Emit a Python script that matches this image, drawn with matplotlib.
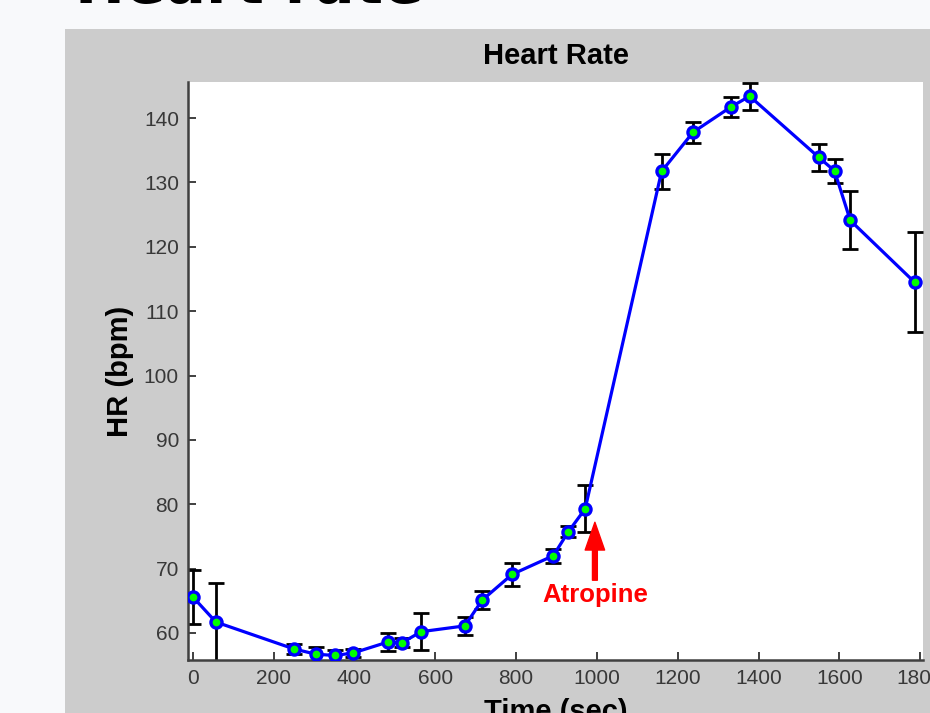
#!/usr/bin/env python3
# Heart rate vs time after atropine, MATLAB-style errorbar plot on a slide

import numpy as np
import matplotlib
matplotlib.use('Agg')
import matplotlib.pyplot as plt
from matplotlib.patches import Rectangle

# data =================================================================
time_sec=[0, 57, 251, 305, 352, 397, 483, 518, 565, 673, 716, 790, 892,
          929, 971, 1160, 1238, 1331, 1378, 1549, 1588, 1627, 1786]
hr_bpm=[65.6, 61.7, 57.5, 56.7, 56.5, 56.9, 58.6, 58.5, 60.2, 61.1, 65.1,
        69.1, 72.0, 75.7, 79.3, 131.7, 137.8, 141.7, 143.4, 133.9, 131.8,
        124.1, 114.5]
hr_sem=[4.2, 6.0, 0.75, 1.1, 0.9, 0.65, 1.4, 0.65, 2.85, 1.4, 1.35, 1.75,
        1.1, 0.85, 3.65, 2.75, 1.65, 1.55, 2.1, 2.1, 1.9, 4.5, 7.75]

x_ticks=[0, 200, 400, 600, 800, 1000, 1200, 1400, 1600, 1800]
y_ticks=[60, 70, 80, 90, 100, 110, 120, 130, 140]

slide_title='Heart rate'
ax_title='Heart Rate'
x_label='Time (sec)'
y_label='HR (bpm)'
note_text='Atropine'
note_time=995
note_tip=77.2
note_y=65.9

# figure ================================================================
W,H=930,713
fig=plt.figure(figsize=(W/100,H/100),dpi=100,facecolor='#f8f9fb')

# slide title, mostly cut off at the top
fig.text(75/W,1-3/H,slide_title,fontsize=43,fontweight='bold',
         family='DejaVu Sans',color='black',ha='left',va='baseline')

# grey MATLAB figure panel
fig.patches.append(Rectangle((65/W,0),1-65/W,1-29/H,transform=fig.transFigure,
                             facecolor='#cccccc',edgecolor='none',zorder=-1))

ax=fig.add_axes([188/W,1-660/H,(923-188)/W,(660-82)/H])
ax.set_zorder(1)
ax.set_facecolor('white')

ax.errorbar(time_sec,hr_bpm,yerr=hr_sem,fmt='none',ecolor='black',
            elinewidth=2,capsize=5.5,capthick=2,zorder=2)
ax.plot(time_sec,hr_bpm,'-o',color='#0000ff',lw=2.3,markersize=8,
        markerfacecolor='#00ff00',markeredgecolor='#0000ff',markeredgewidth=2.4,
        zorder=3)

ax.annotate(note_text,xy=(note_time,note_tip),xytext=(note_time,note_y),
            ha='center',va='center',color='#ff0000',fontsize=18.5,fontweight='bold',
            family='Liberation Sans',
            arrowprops=dict(facecolor='#ff0000',edgecolor='#ff0000',width=3.5,
                            headwidth=14,headlength=20,shrink=0.0),zorder=4)

ax.set_xlim(-12,1807)
ax.set_ylim(55.8,145.6)
ax.set_xticks(x_ticks)
ax.set_yticks(y_ticks)

for s in ['top','right']:
    ax.spines[s].set_visible(False)
for s in ['left','bottom']:
    ax.spines[s].set_color('#404040')
    ax.spines[s].set_linewidth(1.8)

ax.tick_params(direction='in',length=6,width=1.4,color='#404040',
               labelsize=15,labelcolor='#383838',pad=6.5)
for lab in ax.get_xticklabels()+ax.get_yticklabels():
    lab.set_family('Liberation Sans')

ax.set_title(ax_title,fontsize=21,fontweight='bold',family='Liberation Sans',pad=13)
ax.set_xlabel(x_label,fontsize=21,fontweight='bold',family='Liberation Sans')
ax.xaxis.set_label_coords(0.5,-0.066)
ax.set_ylabel(y_label,fontsize=21,fontweight='bold',family='Liberation Sans',va='center')
ax.yaxis.set_label_coords(-0.092,0.5)

plt.savefig('out.png',dpi=100,facecolor=fig.get_facecolor())
plt.close('all')
